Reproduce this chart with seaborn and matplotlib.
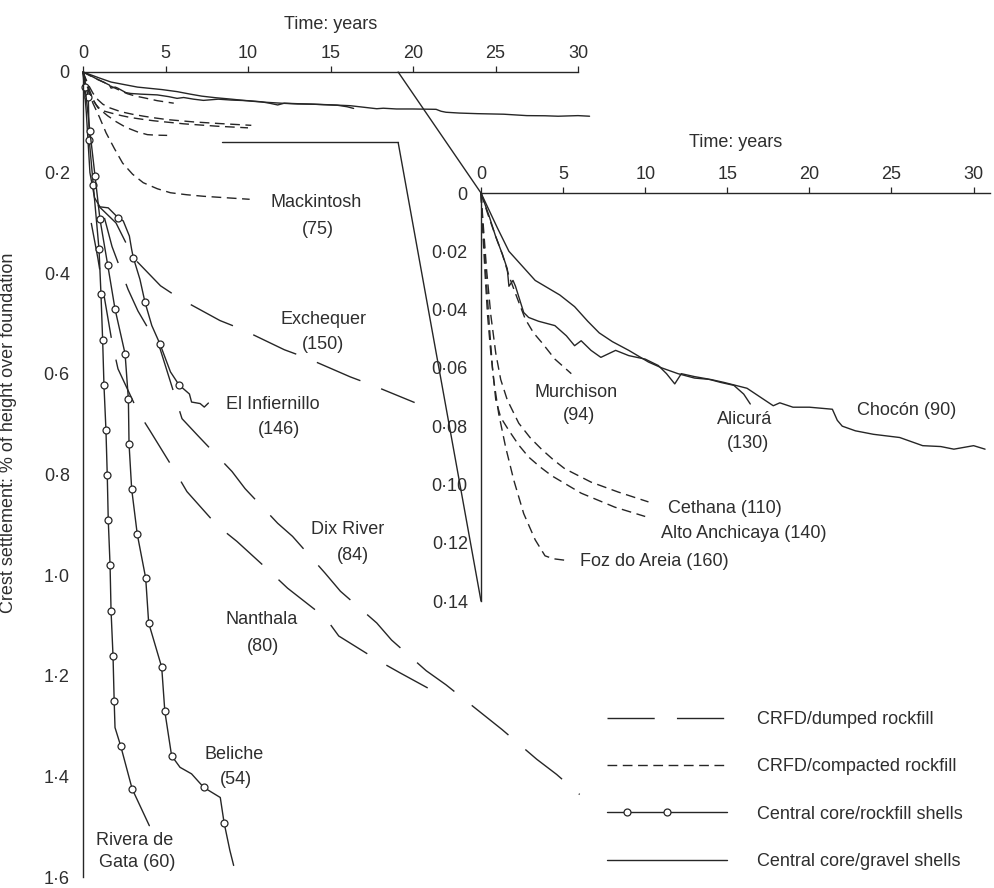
import numpy as np
import matplotlib
matplotlib.use("Agg")
import matplotlib.pyplot as plt
from matplotlib.lines import Line2D
from matplotlib.legend_handler import HandlerLine2D
from matplotlib.patches import ConnectionPatch
import seaborn as sns

# ---------------------------------------------------------------- data
year_ticks = [0, 5, 10, 15, 20, 25, 30]
year_tick_labels = ["0", "5", "10", "15", "20", "25", "30"]
main_y_ticks = [0, 0.2, 0.4, 0.6, 0.8, 1.0, 1.2, 1.4, 1.6]
main_y_labels = ["0", "0·2", "0·4", "0·6", "0·8", "1·0", "1·2", "1·4", "1·6"]
inset_y_ticks = [0, 0.02, 0.04, 0.06, 0.08, 0.10, 0.12, 0.14]
inset_y_labels = ["0", "0·02", "0·04", "0·06", "0·08", "0·10", "0·12", "0·14"]

x_label = "Time: years"
y_label = "Crest settlement: % of height over foundation"

# --- dams with small settlement (shown in both panels)
chocon_t = [0, 0.5, 1.0, 1.7, 2.5, 3.3, 4.2, 4.8, 5.7, 6.5, 7.2, 8.0, 9.0, 10.2, 11.0, 12.0,
            13.0, 14.0, 14.8, 16.2, 17.0, 17.8, 18.2, 19.0, 20.0, 21.4, 21.7, 22.0, 22.8,
            23.9, 25.5, 26.9, 28.0, 28.8, 30.0, 30.7]
chocon_s = [0, 0.006, 0.012, 0.020, 0.025, 0.030, 0.033, 0.035, 0.039, 0.044, 0.048, 0.051,
            0.054, 0.058, 0.060, 0.062, 0.0635, 0.064, 0.065, 0.067, 0.070, 0.073, 0.072,
            0.0735, 0.0735, 0.0742, 0.078, 0.080, 0.0816, 0.0828, 0.0839, 0.0867, 0.087,
            0.0879, 0.0867, 0.0879]

alicura_t = [0, 0.5, 0.88, 1.3, 1.6, 1.7, 1.95, 2.1, 2.6, 2.9, 3.5, 4.5, 5.2, 5.7, 6.1, 6.7,
             7.3, 8.2, 9.0, 10.0, 10.8, 11.3, 11.8, 12.2, 13.0, 13.8, 14.6, 15.4, 16.0, 16.4]
alicura_s = [0, 0.008, 0.0147, 0.021, 0.026, 0.032, 0.030, 0.032, 0.041, 0.0427, 0.044,
             0.0455, 0.049, 0.0524, 0.0507, 0.054, 0.0564, 0.054, 0.0558, 0.057, 0.0592,
             0.062, 0.0655, 0.062, 0.063, 0.0638, 0.065, 0.066, 0.069, 0.0724]

murchison_t = [0, 0.4, 0.88, 1.3, 1.7, 2.2, 2.7, 3.2, 3.7, 4.5, 5.5]
murchison_s = [0, 0.007, 0.0147, 0.021, 0.0284, 0.036, 0.0433, 0.048, 0.0513, 0.057, 0.062]

cethana_t = [0, 0.15, 0.35, 0.6, 0.9, 1.2, 1.6, 2.3, 3.0, 3.7, 4.4, 5.1, 6.7, 8.35, 10.2]
cethana_s = [0, 0.012, 0.027, 0.042, 0.055, 0.064, 0.071, 0.079, 0.084, 0.088, 0.0915,
             0.0946, 0.0992, 0.1026, 0.106]

alto_t = [0, 0.12, 0.3, 0.5, 0.7, 0.9, 1.2, 1.7, 2.3, 2.9, 3.6, 4.3, 6.1, 8.15, 10.0]
alto_s = [0, 0.012, 0.028, 0.045, 0.060, 0.071, 0.077, 0.0815, 0.0865, 0.0906, 0.094,
          0.097, 0.103, 0.1078, 0.111]

foz_t = [0, 0.1, 0.25, 0.4, 0.6, 0.78, 1.08, 1.5, 2.0, 2.6, 3.3, 3.9, 4.4, 5.1]
foz_s = [0, 0.012, 0.028, 0.042, 0.055, 0.0644, 0.0758, 0.0872, 0.0986, 0.110, 0.119,
         0.1245, 0.1255, 0.126]

# --- dams with large settlement (main panel only)
mackintosh_t = [0, 0.3, 0.6, 1.0, 1.4, 1.9, 2.4, 3.0, 3.65, 4.5, 5.3, 6.3, 7.3, 8.7, 10.1]
mackintosh_s = [0, 0.035, 0.062, 0.090, 0.121, 0.152, 0.181, 0.203, 0.220, 0.232, 0.240,
                0.244, 0.247, 0.250, 0.253]

exchequer_t = [0.9, 2.0, 3.05, 4.7, 5.9, 8.3, 9.6, 12.2, 13.6, 16.2, 17.5, 20.1]
exchequer_s = [0.265, 0.30, 0.369, 0.425, 0.451, 0.494, 0.511, 0.552, 0.569, 0.606, 0.622, 0.657]

dix_t = [1.3, 1.76, 2.73, 3.33, 4.67, 6.0, 6.97, 9.03, 9.82, 11.8, 12.7, 14.67, 15.6, 17.8,
         18.7, 20.8, 22.0, 24.1, 25.4, 27.5, 28.7, 30.1]
dix_s = [0.29, 0.347, 0.432, 0.475, 0.55, 0.689, 0.723, 0.794, 0.828, 0.897, 0.923, 0.996,
         1.032, 1.095, 1.129, 1.19, 1.218, 1.273, 1.307, 1.366, 1.396, 1.436]

nanthala_t = [0.5, 0.9, 1.2, 1.76, 2.12, 3.33, 4.06, 5.58, 6.3, 8.12, 9.33, 11.3, 12.4, 14.7,
              15.5, 17.9, 19.2, 21.1]
nanthala_s = [0.30, 0.37, 0.43, 0.537, 0.59, 0.675, 0.713, 0.794, 0.834, 0.901, 0.933, 0.992,
              1.026, 1.085, 1.121, 1.17, 1.194, 1.228]

infiernillo_t = [0, 0.2, 0.42, 0.7, 1.03, 1.53, 2.14, 2.44, 2.81, 2.95, 3.05, 3.45, 3.76, 4.17,
                 4.67, 5.3, 5.82, 6.45, 6.58, 7.1, 7.35, 7.6]
infiernillo_s = [0, 0.08, 0.20, 0.25, 0.268, 0.27, 0.29, 0.296, 0.326, 0.353, 0.369, 0.412,
                 0.458, 0.504, 0.541, 0.596, 0.622, 0.640, 0.656, 0.659, 0.666, 0.658]
infiernillo_marks = [6, 10, 12, 14, 16]

rivera_t = [0, 0.32, 0.38, 0.62, 0.97, 1.09, 1.19, 1.27, 1.39, 1.47, 1.53, 1.64, 1.70, 1.82,
            1.89, 1.94, 2.28, 2.98, 4.02]
rivera_s = [0, 0.049, 0.135, 0.224, 0.352, 0.442, 0.532, 0.622, 0.711, 0.801, 0.890, 0.980,
            1.071, 1.161, 1.251, 1.303, 1.339, 1.425, 1.498]
rivera_marks = [1, 2, 3, 4, 5, 6, 7, 8, 9, 10, 11, 12, 13, 14, 16, 17]

beliche_t = [0, 0.12, 0.42, 0.73, 1.03, 1.5, 1.94, 2.55, 2.75, 2.79, 2.95, 3.29, 3.8, 3.98,
             4.77, 4.96, 5.37, 5.88, 6.58, 7.32, 8.32, 8.55, 8.9, 9.13]
beliche_s = [0, 0.029, 0.118, 0.207, 0.293, 0.384, 0.471, 0.56, 0.65, 0.739, 0.829, 0.919,
             1.006, 1.095, 1.183, 1.271, 1.359, 1.382, 1.395, 1.422, 1.442, 1.492, 1.547, 1.577]
beliche_marks = [1, 2, 3, 4, 5, 6, 7, 8, 9, 10, 11, 12, 13, 14, 15, 16, 19, 21]

# zoom box of the inset (in main-panel units)
zoom_box_t = [8.4, 19.1]
zoom_box_s = [0.14, 0.14]
inset_origin = (0, 0)
inset_bottom = (0, 0.14)

# labels
main_label_text = ["Mackintosh", "(75)", "Exchequer", "(150)", "El Infiernillo", "(146)",
                   "Dix River", "(84)", "Nanthala", "(80)", "Beliche", "(54)",
                   "Rivera de", "Gata (60)"]
main_label_x = [14.12, 14.24, 14.55, 14.55, 11.52, 11.88, 16.06, 16.36, 10.85, 10.9,
                9.15, 9.27, 3.15, 3.27]
main_label_y = [0.259, 0.313, 0.491, 0.541, 0.661, 0.711, 0.909, 0.960, 1.089, 1.141,
                1.356, 1.406, 1.527, 1.572]

inset_label_text = ["Murchison", "(94)", "Alicurá", "(130)", "Chocón (90)", "Cethana (110)",
                    "Alto Anchicaya (140)", "Foz do Areia (160)"]
inset_label_x = [5.79, 5.97, 16.08, 16.26, 25.94, 14.86, 16.02, 10.54]
inset_label_y = [0.0683, 0.0765, 0.0776, 0.0861, 0.0748, 0.1081, 0.1167, 0.1266]

legend_labels = ["CRFD/dumped rockfill", "CRFD/compacted rockfill",
                 "Central core/rockfill shells", "Central core/gravel shells"]

# ---------------------------------------------------------------- style
INK = "#262626"
TXT = "#2e2e2e"
FS = 13

sns.set_style("white")
plt.rcParams["font.family"] = ["Liberation Sans", "DejaVu Sans"]

kind_style = {
    "dumped": dict(linestyle=(0, (34, 16))),
    "compacted": dict(linestyle=(0, (7, 4))),
    "rockfill": dict(linestyle="-", marker="o", markersize=5, markerfacecolor="white",
                     markeredgecolor=INK, markeredgewidth=0.9),
    "gravel": dict(linestyle="-"),
}

small_series = [
    (chocon_t, chocon_s, "gravel", None),
    (alicura_t, alicura_s, "gravel", None),
    (murchison_t, murchison_s, "compacted", None),
    (cethana_t, cethana_s, "compacted", None),
    (alto_t, alto_s, "compacted", None),
    (foz_t, foz_s, "compacted", None),
]
large_series = [
    (mackintosh_t, mackintosh_s, "compacted", None),
    (exchequer_t, exchequer_s, "dumped", None),
    (dix_t, dix_s, "dumped", None),
    (nanthala_t, nanthala_s, "dumped", None),
    (infiernillo_t, infiernillo_s, "rockfill", infiernillo_marks),
    (rivera_t, rivera_s, "rockfill", rivera_marks),
    (beliche_t, beliche_s, "rockfill", beliche_marks),
]

fig = plt.figure(figsize=(9.94, 8.88), dpi=100)
ax = fig.add_axes([83 / 994, 1 - 877 / 888, 495 / 994, 805 / 888])
axi = fig.add_axes([481 / 994, 1 - 601 / 888, 509 / 994, 408 / 888])
axi.patch.set_alpha(0)


def draw(axis, t, s, kind, marks):
    kw = dict(kind_style[kind])
    if marks is not None:
        kw["markevery"] = marks
    sns.lineplot(x=t, y=s, ax=axis, sort=False, estimator=None, color=INK,
                 linewidth=1.0, clip_on=False, **kw)


for t, s, kind, marks in large_series + small_series:
    draw(ax, t, s, kind, marks)
for t, s, kind, marks in small_series:
    draw(axi, t, s, kind, marks)


def style_axes(a, xlim, ylim, yticks, ylabels, labelpad):
    a.set_xlim(*xlim)
    a.set_ylim(*ylim)
    a.xaxis.tick_top()
    a.xaxis.set_label_position("top")
    a.set_xticks(year_ticks)
    a.set_xticklabels(year_tick_labels)
    a.set_yticks(yticks)
    a.set_yticklabels(ylabels)
    for side in ("right", "bottom"):
        a.spines[side].set_visible(False)
    for side in ("left", "top"):
        a.spines[side].set_color(INK)
        a.spines[side].set_linewidth(1.0)
    a.tick_params(axis="x", direction="out", length=4, width=0.9, color=INK,
                  labelcolor=TXT, labelsize=FS, pad=3)
    a.tick_params(axis="y", direction="out", length=4.5, width=0.9, color=INK,
                  labelcolor=TXT, labelsize=FS, pad=5)
    a.set_xlabel(x_label, fontsize=FS, color=TXT, labelpad=labelpad)
    a.grid(False)


style_axes(ax, (0, 30), (1.6, 0), main_y_ticks, main_y_labels, 12)
style_axes(axi, (0, 31.0), (0.14, 0), inset_y_ticks, inset_y_labels, 14)
ax.set_ylabel(y_label, fontsize=FS, color=TXT)
ax.yaxis.set_label_coords(-0.1333, 0.552)
axi.set_ylabel("")

for txt, x, y in zip(main_label_text, main_label_x, main_label_y):
    ax.text(x, y, txt, ha="center", va="center", fontsize=FS, color=TXT)
for txt, x, y in zip(inset_label_text, inset_label_x, inset_label_y):
    axi.text(x, y, txt, ha="center", va="center", fontsize=FS, color=TXT)

# zoom box + connectors
ax.plot(zoom_box_t, zoom_box_s, color=INK, lw=1.0, clip_on=False)
for ya, pb in ((0.0, inset_origin), (zoom_box_s[1], inset_bottom)):
    con = ConnectionPatch(xyA=(zoom_box_t[1], ya), coordsA=ax.transData,
                          xyB=pb, coordsB=axi.transData, color=INK, lw=1.0)
    fig.add_artist(con)


# legend
class TwoMarkHandler(HandlerLine2D):
    def create_artists(self, legend, orig_handle, xdescent, ydescent, width, height,
                       fontsize, trans):
        xs = np.linspace(-xdescent, -xdescent + width, 7)
        ys = np.full_like(xs, (height - ydescent) / 2)
        line = Line2D(xs, ys)
        self.update_prop(line, orig_handle, legend)
        line.set_markevery([1, 3])
        line.set_transform(trans)
        return [line]


handles = [
    Line2D([], [], color=INK, lw=1.0, **kind_style["dumped"]),
    Line2D([], [], color=INK, lw=1.0, **kind_style["compacted"]),
    Line2D([], [], color=INK, lw=1.0, **kind_style["rockfill"]),
    Line2D([], [], color=INK, lw=1.0, **kind_style["gravel"]),
]
leg = fig.legend(handles, legend_labels, loc="upper left",
                 bbox_to_anchor=(607 / 994, (888 - 711) / 888),
                 frameon=False, fontsize=FS, handlelength=6.65, handletextpad=1.66,
                 labelspacing=1.68, borderpad=0, borderaxespad=0,
                 handler_map={handles[2]: TwoMarkHandler()})
for t in leg.get_texts():
    t.set_color(TXT)

fig.savefig("out.png", dpi=100)
